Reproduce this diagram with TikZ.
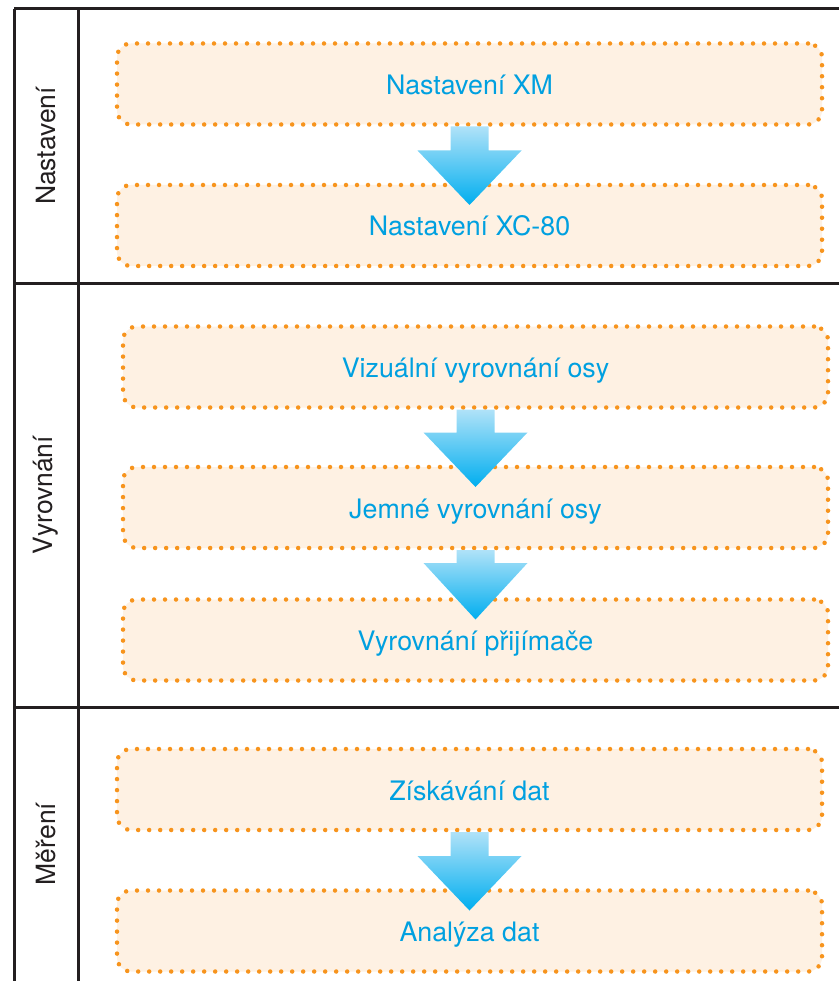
\documentclass[tikz,border=0pt]{standalone}
\usepackage{fontspec}
\setmainfont{TeX Gyre Heros}
\usetikzlibrary{calc}

\definecolor{stepedge}{RGB}{247,148,29}
\definecolor{stepfill}{RGB}{254,241,227}
\definecolor{steptext}{RGB}{0,160,224}
\definecolor{arrowtop}{RGB}{176,226,248}
\definecolor{arrowbot}{RGB}{0,174,239}
\definecolor{framecol}{RGB}{35,31,32}

\tikzset{
  stepbox/.style={draw=stepedge, fill=stepfill, line width=4.5pt,
    dash pattern=on 0pt off 11pt, line cap=round, rounded corners=14pt,
    minimum width=705pt, minimum height=81pt, inner sep=0pt, outer sep=0pt,
    text height=21pt, text depth=0pt,
    text=steptext, font=\fontsize{26.8}{32}\selectfont},
  sidelabel/.style={rotate=90, text=framecol, font=\fontsize{26.5}{32}\selectfont},
  frameline/.style={draw=framecol, line width=3pt}
}

% #1 from, #2 to, #3 shaft length
\newcommand{\flowarrow}[3]{%
  \shade[top color=arrowtop, bottom color=arrowbot]
    ($(#1.south)+(-19,2)$) -- ++(0,#3) -- ++(-33,0)
    -- ($(#1.south |- #2.north)+(0,20)$)
    -- ($(#1.south)+(52,#3+2)$) -- ++(-33,0) -- ++(0,-#3) -- cycle;}

\begin{document}
\begin{tikzpicture}[x=1pt,y=-1pt]
\useasboundingbox (0,0) rectangle (839,981);

\draw[frameline] (14,9) -- (839,9);
\draw[frameline] (14,283) -- (839,283);
\draw[frameline] (14,707) -- (839,707);
\draw[frameline] (14,9) -- (14,981);
\draw[frameline] (78,9) -- (78,981);

\node[sidelabel] (nastaveni) at (46,146) {Nastavení};
\node[sidelabel] (vyrovnani) at (46,495) {Vyrovnání};
\node[sidelabel] (mereni) at (46,844) {Měření};

\pgfmathsetmacro{\xa}{469.5};
\pgfmathsetmacro{\xb}{475.5};

\node[stepbox] (xm) at (\xa,84) {Nastavení XM};
\node[stepbox] (xc) at (\xa,225.5) {Nastavení XC-80};
\node[stepbox] (vizual) at (\xb,367) {Vizuální vyrovnání osy};
\node[stepbox] (jemne) at (\xb,507.5) {Jemné vyrovnání osy};
\node[stepbox] (prijimac) at (\xb,640) {Vyrovnání přijímače};
\node[stepbox] (ziskavani) at (\xa,789.5) {Získávání dat};
\node[stepbox] (analyza) at (\xa,931) {Analýza dat};

\flowarrow{xm}{xc}{24}
\flowarrow{vizual}{jemne}{23}
\flowarrow{jemne}{prijimac}{13}
\flowarrow{ziskavani}{analyza}{24}
\end{tikzpicture}
\end{document}
